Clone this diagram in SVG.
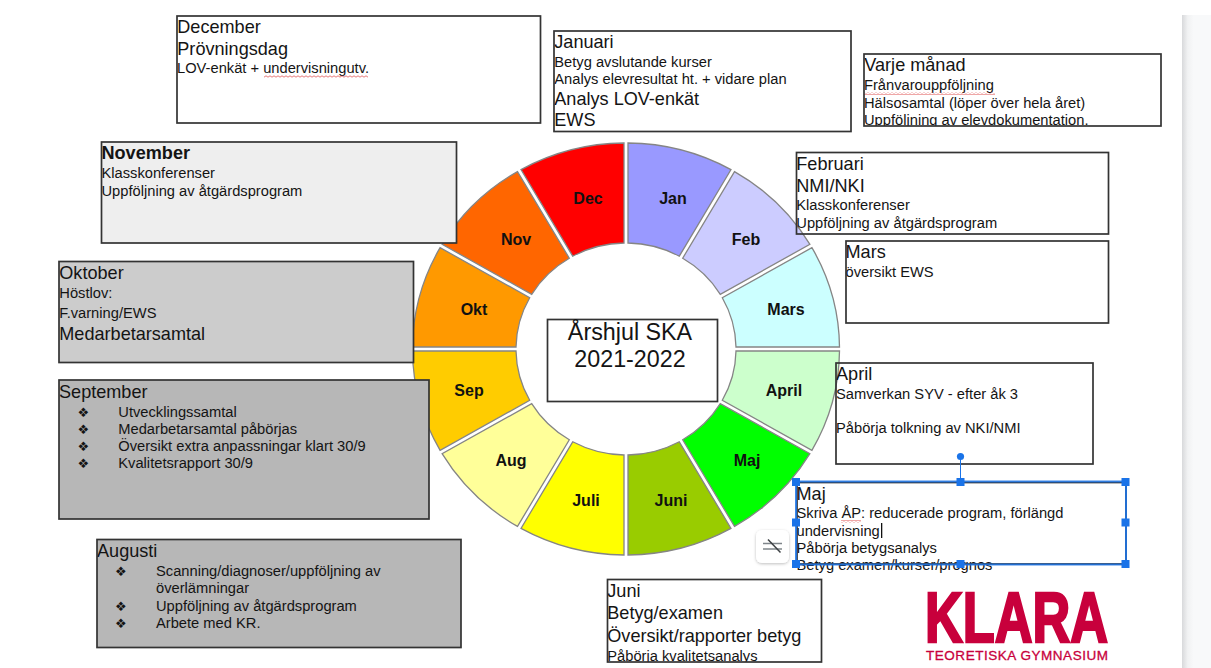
<svg xmlns="http://www.w3.org/2000/svg" width="1211" height="668" viewBox="0 0 1211 668">
<style>
text{font-family:"Liberation Sans",Arial,sans-serif;fill:#141414}
.l{font-size:18.1px}
.s{font-size:14.7px}
.b{stroke:#333;stroke-width:1.7;fill:none}
.seg{stroke:#858585;stroke-width:1.3}
.m{font-size:16px;font-weight:bold;text-anchor:middle;fill:#111}
.d{font-family:"DejaVu Sans",sans-serif;font-size:13px}
.h{fill:#1a73e8}
</style>
<defs>
<pattern id="sq" width="4" height="3" patternUnits="userSpaceOnUse"><path d="M0 2.2L2 .8L4 2.2" fill="none" stroke="#e05555" stroke-width=".8"/></pattern>
<filter id="sh" x="-30%" y="-30%" width="160%" height="170%"><feDropShadow dx="0" dy="1" stdDeviation="1.5" flood-color="#000" flood-opacity=".25"/></filter>
<linearGradient id="pg" x1="0" x2="1" y1="0" y2="0"><stop offset="0" stop-color="#d8d9db"/><stop offset=".2" stop-color="#f1f2f3"/><stop offset=".4" stop-color="#f8f9fa"/></linearGradient>
<clipPath id="c1"><rect x="864" y="54" width="297" height="72"/></clipPath>
<clipPath id="c2"><rect x="607" y="579" width="214" height="83"/></clipPath>
</defs>
<rect width="1211" height="668" fill="#fff"/>
<rect id="sidepanel" x="1182" y="15" width="29" height="653" fill="url(#pg)"/>

<g id="wheel" transform="translate(626 349)">
<g id="seg-jan"><path class="seg" fill="#9999ff" d="M2 -206A213.5 206 0 0 1 105 -179.4L53.3 -92.8A110 106 0 0 0 2 -106Z"/><text class="m" x="47" y="-145">Jan</text></g>
<g id="seg-feb"><path class="seg" fill="#ccccff" d="M108.5 -177.4A213.5 206 0 0 1 183.9 -104.7L94.3 -54.7A110 106 0 0 0 56.7 -90.8Z"/><text class="m" x="120" y="-104">Feb</text></g>
<g id="seg-mars"><path class="seg" fill="#ccffff" d="M185.9 -101.3A213.5 206 0 0 1 213.5 -2L110 -2A110 106 0 0 0 96.3 -51.3Z"/><text class="m" x="160" y="-34">Mars</text></g>
<g id="seg-april"><path class="seg" fill="#ccffcc" d="M213.5 2A213.5 206 0 0 1 185.9 101.3L96.3 51.3A110 106 0 0 0 110 2Z"/><text class="m" x="158" y="47">April</text></g>
<g id="seg-maj"><path class="seg" fill="#00ff00" d="M183.9 104.7A213.5 206 0 0 1 108.5 177.4L56.7 90.8A110 106 0 0 0 94.3 54.7Z"/><text class="m" x="121" y="117">Maj</text></g>
<g id="seg-juni"><path class="seg" fill="#99cc00" d="M105 179.4A213.5 206 0 0 1 2 206L2 106A110 106 0 0 0 53.3 92.8Z"/><text class="m" x="45" y="157">Juni</text></g>
<g id="seg-juli"><path class="seg" fill="#ffff00" d="M-2 206A213.5 206 0 0 1 -105 179.4L-53.3 92.8A110 106 0 0 0 -2 106Z"/><text class="m" x="-40" y="157">Juli</text></g>
<g id="seg-aug"><path class="seg" fill="#ffff99" d="M-108.5 177.4A213.5 206 0 0 1 -183.9 104.7L-94.3 54.7A110 106 0 0 0 -56.7 90.8Z"/><text class="m" x="-115" y="117">Aug</text></g>
<g id="seg-sep"><path class="seg" fill="#ffcc00" d="M-185.9 101.3A213.5 206 0 0 1 -213.5 2L-110 2A110 106 0 0 0 -96.3 51.3Z"/><text class="m" x="-157" y="47">Sep</text></g>
<g id="seg-okt"><path class="seg" fill="#ff9900" d="M-213.5 -2A213.5 206 0 0 1 -185.9 -101.3L-96.3 -51.3A110 106 0 0 0 -110 -2Z"/><text class="m" x="-152" y="-34">Okt</text></g>
<g id="seg-nov"><path class="seg" fill="#ff6600" d="M-183.9 -104.7A213.5 206 0 0 1 -108.5 -177.4L-56.7 -90.8A110 106 0 0 0 -94.3 -54.7Z"/><text class="m" x="-110" y="-104">Nov</text></g>
<g id="seg-dec"><path class="seg" fill="#ff0000" d="M-105 -179.4A213.5 206 0 0 1 -2 -206L-2 -106A110 106 0 0 0 -53.3 -92.8Z"/><text class="m" x="-38" y="-145">Dec</text></g>
</g>

<g id="center">
<rect class="b" x="547.5" y="319.5" width="170" height="82" style="fill:#fff"/>
<text x="630" y="340" font-size="23.300" text-anchor="middle">Årshjul SKA</text>
<text x="630" y="367" font-size="23.300" text-anchor="middle">2021-2022</text>
</g>

<g id="december">
<text class="l" x="177.300" y="33">December</text>
<text class="l" x="177.300" y="55">Prövningsdag</text>
<text class="s" x="177" y="73">LOV-enkät + undervisningutv.</text>
<rect x="264" y="75" width="104" height="3" fill="url(#sq)"/>
<rect class="b" x="177" y="16" width="363.500" height="107"/>
</g>

<g id="januari">
<text class="l" x="554.300" y="48">Januari</text>
<text class="s" x="554.300" y="67">Betyg avslutande kurser</text>
<text class="s" x="554.300" y="84">Analys elevresultat ht. + vidare plan</text>
<text class="l" x="554.300" y="105">Analys LOV-enkät</text>
<text class="l" x="554.300" y="126">EWS</text>
<rect class="b" x="554" y="31" width="297" height="100.500"/>
</g>

<g id="varje-manad">
<g clip-path="url(#c1)">
<text class="l" x="864.300" y="71">Varje månad</text>
<text class="s" x="864" y="90">Frånvarouppföljning</text>
<text class="s" x="864" y="107.500">Hälsosamtal (löper över hela året)</text>
<text class="s" x="864" y="125">Uppföljning av elevdokumentation.</text>
</g>
<rect x="864" y="92" width="131" height="3" fill="url(#sq)"/>
<rect class="b" x="864" y="54" width="297" height="72"/>
</g>

<g id="februari">
<text class="l" x="796.300" y="170">Februari</text>
<text class="l" x="796.300" y="192">NMI/NKI</text>
<text class="s" x="796.300" y="210">Klasskonferenser</text>
<text class="s" x="796.300" y="228">Uppföljning av åtgärdsprogram</text>
<rect class="b" x="796.500" y="152.500" width="312" height="81.500"/>
</g>

<g id="mars">
<text class="l" x="845.500" y="258">Mars</text>
<text class="s" x="845.500" y="277">översikt EWS</text>
<rect class="b" x="846" y="241" width="262.500" height="82"/>
</g>

<g id="april">
<text class="l" x="836" y="380">April</text>
<text class="s" x="836" y="399">Samverkan SYV - efter åk 3</text>
<text class="s" x="836" y="433">Påbörja tolkning av NKI/NMI</text>
<rect class="b" x="836" y="363" width="257" height="101"/>
</g>

<g id="november">
<rect x="101" y="142" width="355" height="101" fill="#eeeeee"/>
<text class="l" x="101.500" y="158.500" font-weight="bold">November</text>
<text class="s" x="101.500" y="178">Klasskonferenser</text>
<text class="s" x="101.500" y="195.500">Uppföljning av åtgärdsprogram</text>
<rect class="b" x="101.500" y="142" width="355" height="101"/>
</g>

<g id="oktober">
<rect x="59" y="261.500" width="354.500" height="101" fill="#cccccc"/>
<text class="l" x="59.300" y="279">Oktober</text>
<text class="s" x="59.300" y="298">Höstlov:</text>
<text class="s" x="59.300" y="318">F.varning/EWS</text>
<text class="l" x="59.300" y="340">Medarbetarsamtal</text>
<rect class="b" x="59" y="261.500" width="354.500" height="101"/>
</g>

<g id="september">
<rect x="59" y="380" width="370" height="139" fill="#b7b7b7"/>
<text class="l" x="59" y="398">September</text>
<text class="d" x="77.500" y="416.500">❖</text><text class="s" x="118.300" y="416.500">Utvecklingssamtal</text>
<text class="d" x="77.500" y="434">❖</text><text class="s" x="118.300" y="434">Medarbetarsamtal påbörjas</text>
<text class="d" x="77.500" y="451">❖</text><text class="s" x="118.300" y="451">Översikt extra anpassningar klart 30/9</text>
<text class="d" x="77.500" y="468">❖</text><text class="s" x="118.300" y="468">Kvalitetsrapport 30/9</text>
<rect class="b" x="59" y="380" width="370" height="139"/>
</g>

<g id="augusti">
<rect x="97" y="539.500" width="364" height="108" fill="#b7b7b7"/>
<text class="l" x="97" y="557">Augusti</text>
<text class="d" x="115" y="575.500">❖</text><text class="s" x="156" y="575.500">Scanning/diagnoser/uppföljning av</text>
<text class="s" x="156" y="593">överlämningar</text>
<text class="d" x="115" y="610.500">❖</text><text class="s" x="156" y="610.500">Uppföljning av åtgärdsprogram</text>
<text class="d" x="115" y="627.500">❖</text><text class="s" x="156" y="627.500">Arbete med KR.</text>
<rect class="b" x="97" y="539.500" width="364" height="108"/>
</g>

<g id="juni">
<g clip-path="url(#c2)">
<text class="l" x="607.300" y="597">Juni</text>
<text class="l" x="607.300" y="619">Betyg/examen</text>
<text class="l" x="607.300" y="642">Översikt/rapporter betyg</text>
<text class="s" x="607.300" y="661">Påbörja kvalitetsanalys</text>
</g>
<rect class="b" x="607.500" y="579.500" width="214" height="82.500"/>
</g>

<g id="maj">
<text class="l" x="796.500" y="500">Maj</text>
<text class="s" x="796.500" y="518">Skriva ÅP: reducerade program, förlängd</text>
<text class="s" x="796.500" y="535.500">undervisning</text>
<text class="s" x="796.500" y="553">Påbörja betygsanalys</text>
<text class="s" x="796.500" y="570">Betyg examen/kurser/prognos</text>
<rect x="841" y="520" width="20" height="3" fill="url(#sq)"/>
<rect x="881" y="523" width="1.300" height="15" fill="#111"/>
<rect class="b" x="797" y="482.500" width="329" height="81.500"/>
</g>

<g id="selection">
<rect x="796" y="481.500" width="330" height="83" fill="none" stroke="#1a73e8" stroke-width="2" opacity=".85"/>
<line x1="960.500" y1="482" x2="960.500" y2="457" stroke="#1a73e8" stroke-width="1"/>
<circle class="h" cx="960.500" cy="456.500" r="3.600"/>
<rect class="h" x="792" y="478" width="8" height="8"/>
<rect class="h" x="956.500" y="478" width="8" height="8"/>
<rect class="h" x="1121.500" y="478" width="8" height="8"/>
<rect class="h" x="792" y="518.500" width="8" height="8"/>
<rect class="h" x="1121.500" y="518.500" width="8" height="8"/>
<rect class="h" x="792" y="560" width="8" height="8"/>
<rect class="h" x="956.500" y="560" width="8" height="8"/>
<rect class="h" x="1121.500" y="560" width="8" height="8"/>
</g>

<g id="toggle">
<rect x="756" y="530" width="33" height="33" rx="6" fill="#fff" filter="url(#sh)"/>
<path d="M763 543.500H782M763 549H782" stroke="#80868b" stroke-width="1.300" fill="none"/>
<path d="M768 539.500L780.500 552.500" stroke="#3c4043" stroke-width="1.500" fill="none"/>
</g>

<g id="logo">
<text x="925" y="642" font-size="70" font-weight="bold" textLength="183" lengthAdjust="spacingAndGlyphs" style="fill:#c8003c;stroke:#c8003c;stroke-width:2.500">KLARA</text>
<text x="926" y="660" font-size="13.500" textLength="182" lengthAdjust="spacing" style="fill:#c8003c;stroke:#c8003c;stroke-width:.3">TEORETISKA GYMNASIUM</text>
</g>
</svg>
